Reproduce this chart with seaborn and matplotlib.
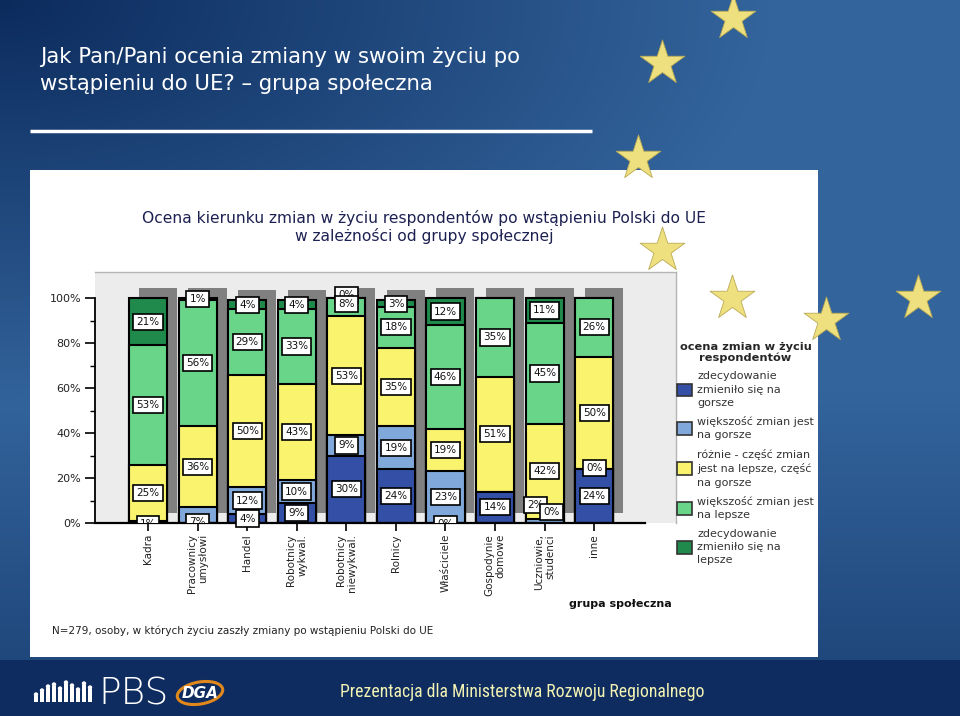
import numpy as np
import pandas as pd
import matplotlib
matplotlib.use("Agg")
import matplotlib.pyplot as plt
import seaborn as sns
from matplotlib import font_manager
from matplotlib.patches import Rectangle, Patch, Ellipse, Circle

# ---------------- data ----------------
categories = ["Kadra", "Pracownicy\numysłowi", "Handel", "Robotnicy\nwykwal.",
              "Robotnicy\nniewykwal.", "Rolnicy", "Właściciele", "Gospodynie\ndomowe",
              "Uczniowie,\nstudenci", "inne"]
series_names = ["zdecydowanie\nzmieniło się na\ngorsze",
                "większość zmian jest\nna gorsze",
                "różnie - część zmian\njest na lepsze, część\nna gorsze",
                "większość zmian jest\nna lepsze",
                "zdecydowanie\nzmieniło się na\nlepsze"]
much_worse    = [0, 0, 4, 9, 30, 24, 0, 14, 0, 24]
mostly_worse  = [1, 7, 12, 10, 9, 19, 23, 0, 2, 0]
mixed         = [25, 36, 50, 43, 53, 35, 19, 51, 42, 50]
mostly_better = [53, 56, 29, 33, 8, 18, 46, 35, 45, 26]
much_better   = [21, 1, 4, 4, 0, 3, 12, 0, 11, 0]
y_ticks = [0, 20, 40, 60, 80, 100]
y_tick_labels = ["0%", "20%", "40%", "60%", "80%", "100%"]
y_minor_ticks = [10, 30, 50, 70, 90]

colors = ["#3350a6", "#80a8da", "#f9f36e", "#68d588", "#1f8a4c"]

# label placement tweaks: (category, series) -> (dx, y) ; hidden/clipped ones
label_pos = {(0, 1): (0.0, -0.6), (1, 1): (0.0, 0.6), (6, 0): (0.0, -0.6),
             (4, 3): (0.0, 97.5), (4, 4): (0.0, 101.5),
             (8, 1): (-0.18, 8.0), (8, 0): (0.14, 5.0), (9, 1): (0.0, 24.5)}
clipped = {(0, 1), (1, 1), (6, 0)}
label_z = {(4, 4): 4, (8, 0): 6}

# ---------------- figure ----------------
W, H = 960, 716
sns.set_style("white")
plt.rcParams['font.family'] = ['DejaVu Sans']
fig = plt.figure(figsize=(9.6, 7.16), dpi=100)

avail = {f.name for f in font_manager.fontManager.ttflist}
narrow_font = next((n for n in ["Liberation Sans Narrow", "DejaVu Sans Condensed",
                                "Roboto Condensed", "Open Sans Condensed"] if n in avail),
                   "DejaVu Sans")


def fx(px):
    return px / W


def fy(py):
    return 1 - py / H


def fit_width(txt, target_px):
    r = fig.canvas.get_renderer()
    wpx = txt.get_window_extent(renderer=r).width
    txt.set_fontsize(txt.get_fontsize() * target_px / wpx)


# background slide
bg = fig.add_axes([0, 0, 1, 1], zorder=0)
bg.set_axis_off()
yy, xx = np.mgrid[0:H:2, 0:W:2]
u = xx / W
v = yy / H
dark = np.array([0x0c, 0x2b, 0x5d]) / 255
light = np.array([0x33, 0x64, 0x9c]) / 255
w = np.clip(np.hypot(u * 1.0, v * 1.4) / 0.8, 0, 1)
w = w * (1 - np.clip((v - 0.55) / 0.45, 0, 1) * 0.6)
img = dark + (light - dark) * w[..., None]
bg.imshow(img, extent=(0, W, H, 0), aspect='auto', interpolation='bilinear')
bg.set_xlim(0, W)
bg.set_ylim(H, 0)

bg.add_patch(Rectangle((0, 660), W, 56, fc="#0e2c5f", ec="none"))
bg.add_patch(Rectangle((30, 170), 788, 487, fc="white", ec="none"))

bg.text(40, 57, "Jak Pan/Pani ocenia zmiany w swoim życiu po", color="white",
        fontsize=15.3, va="center", ha="left")
bg.text(40, 84, "wstąpieniu do UE? – grupa społeczna", color="white",
        fontsize=15.3, va="center", ha="left")
bg.plot([30, 592], [131, 131], color="white", lw=2.5, solid_capstyle="butt")

bg.text(424, 227, "Ocena kierunku zmian w życiu respondentów po wstąpieniu Polski do UE\n"
                  "w zależności od grupy społecznej",
        ha="center", va="center", fontsize=11.2, color="#1d2152", linespacing=1.15)
bg.text(672, 604, "grupa społeczna", ha="right", va="center", fontsize=8,
        fontweight="bold", color="#111111")
bg.text(52, 631, "N=279, osoby, w których życiu zaszły zmiany po wstąpieniu Polski do UE",
        ha="left", va="center", fontsize=7.5, color="#222222")

# footer
foot = bg.text(340, 692, "Prezentacja dla Ministerstwa Rozwoju Regionalnego", color="#f3f3b4",
               fontsize=12, va="center", ha="left", family=[narrow_font, "DejaVu Sans"])
fit_width(foot, 363)
bg.text(98, 694, "PBS", color="white", fontsize=27, va="center", ha="left",
        fontweight="light")
people_h = [10, 14, 18, 20, 16, 22, 19, 15, 21, 17]
for k, hh in enumerate(people_h):
    px = 36 + k * 6
    bg.add_patch(Rectangle((px - 1.8, 706 - hh), 3.6, hh - 4, fc="white", ec="none"))
    bg.add_patch(Circle((px, 706 - hh - 1.5), 2.2, fc="white", ec="none"))
bg.add_patch(Ellipse((200, 693), 46, 22, angle=-10, fc="none", ec="#e0881c", lw=2.2))
bg.text(200, 693, "DGA", color="white", fontsize=11, fontweight="bold",
        fontstyle="italic", ha="center", va="center")

# ---------------- chart ----------------
ax = fig.add_axes([fx(95), fy(523), fx(676) - fx(95), fy(272) - fy(523)], zorder=2)
ax.set_facecolor("#ececec")

data = np.array([much_worse, mostly_worse, mixed, mostly_better, much_better])
cum = np.cumsum(data, axis=0)
totals = cum[-1]
xpos = np.arange(len(categories))

# shadows
ax.bar(xpos + 0.2, totals, bottom=4.4, width=0.77, color="#808080", linewidth=0, zorder=1)

for s in reversed(range(5)):
    sns.barplot(x=categories, y=cum[s], order=categories, color=colors[s],
                saturation=1, edgecolor="black", linewidth=1.5, width=0.77,
                ax=ax, zorder=2)

below = cum - data
for i in range(len(categories)):
    for s in range(5):
        val = data[s, i]
        key = (i, s)
        if key in label_pos:
            dx, yv = label_pos[key]
        elif val == 0:
            continue
        else:
            dx, yv = 0.0, below[s, i] + val / 2
        ax.text(i + dx, yv, f"{val}%", ha="center", va="center", fontsize=7.5,
                color="#111111",
                bbox=dict(boxstyle="square,pad=0.3", fc="white", ec="black", lw=1.2),
                zorder=label_z.get(key, 5), clip_on=(key in clipped))

ax.set_xlim(-1.07, 10.65)
ax.set_ylim(0, 111.6)
ax.set_yticks(y_ticks, y_tick_labels)
ax.set_yticks(y_minor_ticks, minor=True)
ax.set_xticks(xpos)
ax.set_xticklabels(categories, rotation=90, fontsize=7.5, ha="center", va="top",
                   multialignment="right", color="#222222")
ax.tick_params(axis="y", which="major", length=7, width=1.2, color="black",
               labelsize=8, labelcolor="#222222", pad=3, left=True)
ax.tick_params(axis="y", which="minor", length=3.5, width=1.0, color="black", left=True)
ax.tick_params(axis="x", length=6, width=1.2, color="black", pad=2, bottom=True)
ax.set_xlabel("")
ax.set_ylabel("")
for side in ["top", "right"]:
    ax.spines[side].set_color("#b5b5b5")
    ax.spines[side].set_linewidth(1.0)
ax.spines["left"].set_color("black")
ax.spines["left"].set_linewidth(1.3)
ax.spines["left"].set_bounds(0, 100)
ax.spines["bottom"].set_color("black")
ax.spines["bottom"].set_linewidth(1.6)
ax.spines["bottom"].set_bounds(-1.07, 10.02)
ax.grid(False)

# legend
handles = [Patch(facecolor=c, edgecolor="#333333", linewidth=1.2) for c in colors]
leg = fig.legend(handles, series_names, loc="upper left",
                 bbox_to_anchor=(fx(677), fy(342)), frameon=False, fontsize=8,
                 title="ocena zmian w życiu\nrespondentów",
                 title_fontproperties={"weight": "bold", "size": 8.2},
                 handlelength=1.35, handleheight=1.35, handletextpad=0.45,
                 labelspacing=0.74, borderpad=0, borderaxespad=0)
leg.get_title().set_multialignment("center")
leg.get_title().set_linespacing(1.05)
for t in leg.get_texts():
    t.set_color("#333333")
    t.set_linespacing(1.42)

# decorative stars
star_x = [733, 662, 638, 662, 732, 826, 918]
star_y = [18, 63, 158, 250, 298, 320, 298]
top = fig.add_axes([0, 0, 1, 1], zorder=10)
top.set_axis_off()
top.set_xlim(0, W)
top.set_ylim(H, 0)
top.scatter(star_x, star_y, marker="*", s=1150, c="#eee07e", edgecolors="#b9aa55",
            linewidths=0.6)

fig.savefig("out.png", dpi=100)
